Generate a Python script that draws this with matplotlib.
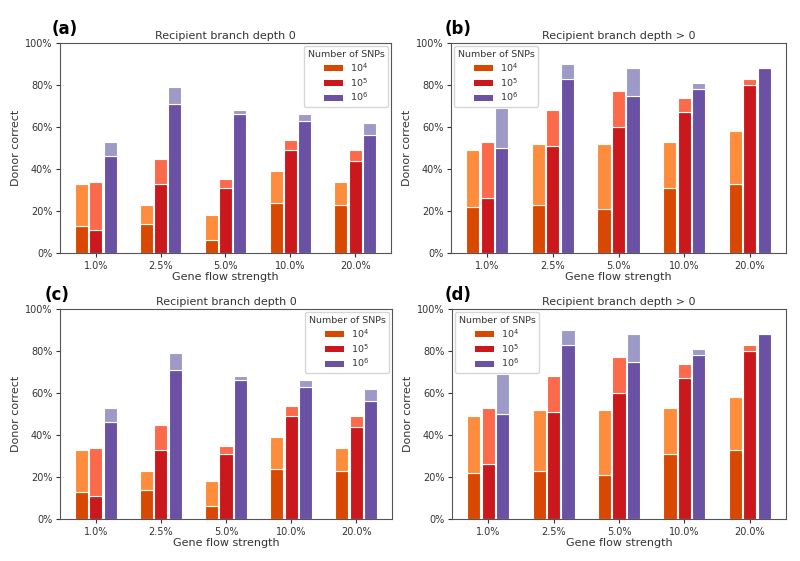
import numpy as np
import matplotlib.pyplot as plt
from matplotlib.ticker import PercentFormatter
from matplotlib.patches import Patch

# Datos (porcentaje)
flow_labels = ["1.0%", "2.5%", "5.0%", "10.0%", "20.0%"]
snp_labels = ["$10^4$", "$10^5$", "$10^6$"]

# Recipient branch depth 0: parte oscura (base) y total (parte clara encima)
d0_base_1e4 = [13, 14, 6, 24, 23]
d0_total_1e4 = [33, 23, 18, 39, 34]
d0_base_1e5 = [11, 33, 31, 49, 44]
d0_total_1e5 = [34, 45, 35, 54, 49]
d0_base_1e6 = [46, 71, 66, 63, 56]
d0_total_1e6 = [53, 79, 68, 66, 62]

# Recipient branch depth > 0
dp_base_1e4 = [22, 23, 21, 31, 33]
dp_total_1e4 = [49, 52, 52, 53, 58]
dp_base_1e5 = [26, 51, 60, 67, 80]
dp_total_1e5 = [53, 68, 77, 74, 83]
dp_base_1e6 = [50, 83, 75, 78, 88]
dp_total_1e6 = [69, 90, 88, 81, 88]

dark_colors = ["#d94801", "#cb181d", "#6a51a3"]
light_colors = ["#fd8d3c", "#fb6a4a", "#9e9ac8"]

panels = [
    ("(a)", "Recipient branch depth 0", "upper right",
     [d0_base_1e4, d0_base_1e5, d0_base_1e6], [d0_total_1e4, d0_total_1e5, d0_total_1e6]),
    ("(b)", "Recipient branch depth > 0", "upper left",
     [dp_base_1e4, dp_base_1e5, dp_base_1e6], [dp_total_1e4, dp_total_1e5, dp_total_1e6]),
    ("(c)", "Recipient branch depth 0", "upper right",
     [d0_base_1e4, d0_base_1e5, d0_base_1e6], [d0_total_1e4, d0_total_1e5, d0_total_1e6]),
    ("(d)", "Recipient branch depth > 0", "upper left",
     [dp_base_1e4, dp_base_1e5, dp_base_1e6], [dp_total_1e4, dp_total_1e5, dp_total_1e6]),
]

# posiciones de los ejes en pixeles (izq, arriba, der, abajo) de una figura 800x561
W, H = 800, 561
boxes = [(60, 43, 391, 253), (451, 43, 786, 253), (60, 309, 392, 519), (452, 309, 786, 519)]
tag_x = [52, 445, 45, 445]

plt.rcParams["font.family"] = "DejaVu Sans"
text_color = "#333333"

fig = plt.figure(figsize=(8, 5.61), dpi=100)
x = np.arange(len(flow_labels))
width = 0.2
offsets = [-0.22, 0.0, 0.22]

for (tag, title, loc, bases, totals), (l, t, r, b), tx in zip(panels, boxes, tag_x):
    ax = fig.add_axes([l / W, 1 - b / H, (r - l) / W, (b - t) / H])
    for i in range(3):
        base = np.array(bases[i])
        total = np.array(totals[i])
        ax.bar(x + offsets[i], base, width, color=dark_colors[i], edgecolor="white", linewidth=0.8)
        ax.bar(x + offsets[i], total - base, width, bottom=base, color=light_colors[i],
               edgecolor="white", linewidth=0.8)
    ax.set_ylim(0, 100)
    ax.yaxis.set_major_formatter(PercentFormatter(decimals=0))
    ax.set_xticks(x)
    ax.set_xticklabels(flow_labels)
    ax.tick_params(labelsize=7, colors=text_color, length=3, pad=2.5)
    for s in ax.spines.values():
        s.set_color("#555555")
    ax.set_xlabel("Gene flow strength", fontsize=8, color=text_color, labelpad=1)
    ax.set_ylabel("Donor correct", fontsize=8, color=text_color, labelpad=3)
    ax.set_title(title, fontsize=8, color=text_color, pad=3)
    # etiqueta del panel, un poco por encima del borde superior de los ejes
    ax.text(tx / W, 1 - (t - 9) / H, tag, transform=fig.transFigure, fontsize=12,
            fontweight="bold", ha="left", va="baseline")
    handles = [Patch(facecolor=c, edgecolor="none") for c in dark_colors]
    leg = ax.legend(handles, snp_labels, title="Number of SNPs", loc=loc, fontsize=6.8,
                    title_fontsize=6.8, handlelength=2.0, borderpad=0.4, labelspacing=0.25,
                    borderaxespad=0.3)
    for txt in leg.get_texts():
        txt.set_color(text_color)
    leg.get_title().set_color(text_color)

fig.savefig("out.png", dpi=100)
